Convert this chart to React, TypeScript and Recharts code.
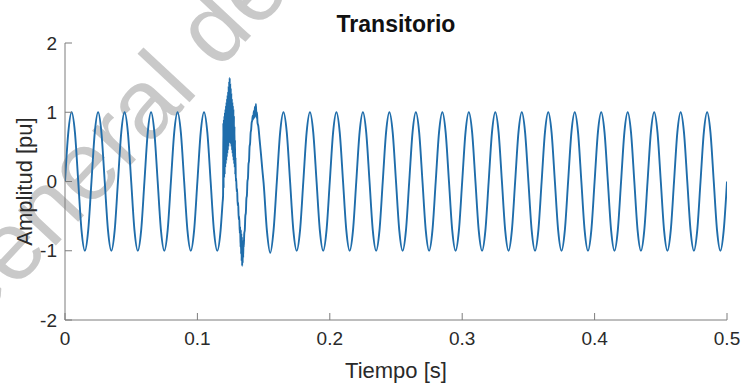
import React from 'react';
import { LineChart, Line, XAxis, YAxis, Label } from 'recharts';

// ---- data ----
// regular samples every 2.5 ms (50 Hz signal, 8 samples per cycle)
const BASE_STEP = 0.0025;
const baseAmp: number[] = [
  0, 0.71, 1, 0.71, 0, -0.71, -1, -0.71,
  0, 0.71, 1, 0.71, 0, -0.71, -1, -0.71,
  0, 0.71, 1, 0.71, 0, -0.71, -1, -0.71,
  0, 0.71, 1, 0.71, 0, -0.71, -1, -0.71,
  0, 0.71, 1, 0.71, 0, -0.71, -1, -0.71,
  0, 0.71, 1, 0.71, 0, -0.71, -1, -0.71,
  0, 0.71, 1, 0.71, 0, -0.71, -1, -0.71,
  0, 0.71, 1, 0.71, 0, -0.71, -1.03, -0.71,
  0, 0.71, 1, 0.71, 0, -0.71, -1, -0.71,
  0, 0.71, 1, 0.71, 0, -0.71, -1, -0.71,
  0, 0.71, 1, 0.71, 0, -0.71, -1, -0.71,
  0, 0.71, 1, 0.71, 0, -0.71, -1, -0.71,
  0, 0.71, 1, 0.71, 0, -0.71, -1, -0.71,
  0, 0.71, 1, 0.71, 0, -0.71, -1, -0.71,
  0, 0.71, 1, 0.71, 0, -0.71, -1, -0.71,
  0, 0.71, 1, 0.71, 0, -0.71, -1, -0.71,
  0, 0.71, 1, 0.71, 0, -0.71, -1, -0.71,
  0, 0.71, 1, 0.71, 0, -0.71, -1, -0.71,
  0, 0.71, 1, 0.71, 0, -0.71, -1, -0.71,
  0, 0.71, 1, 0.71, 0, -0.71, -1, -0.71,
  0, 0.71, 1, 0.71, 0, -0.71, -1, -0.71,
  0, 0.71, 1, 0.71, 0, -0.71, -1, -0.71,
  0, 0.71, 1, 0.71, 0, -0.71, -1, -0.71,
  0, 0.71, 1, 0.71, 0, -0.71, -1, -0.71,
  0, 0.71, 1, 0.71, 0, -0.71, -1, -0.71,
  0,
];

// transient window (replaces the regular samples between these times)
const TRANSIENT_START = 0.1185;
const TRANSIENT_END = 0.1505;
const transientTime: number[] = [
  // noisy rise / first peak
  0.1190, 0.1194, 0.1196, 0.1198, 0.1200, 0.1202, 0.1204, 0.1206, 0.1208, 0.1210,
  0.1212, 0.1214, 0.1216, 0.1218, 0.1220, 0.1222, 0.1224, 0.1226, 0.1228, 0.1230,
  0.1232, 0.1234, 0.1236, 0.1238, 0.1240, 0.1242, 0.1244, 0.1246, 0.1248, 0.1250,
  0.1252, 0.1254, 0.1256, 0.1258, 0.1260, 0.1262, 0.1264, 0.1266, 0.1268, 0.1270,
  0.1272, 0.1274, 0.1276, 0.1278, 0.1280, 0.1282, 0.1284, 0.1286, 0.1288, 0.1290,
  // descent
  0.1293, 0.1297, 0.1300, 0.1304, 0.1308, 0.1312, 0.1316, 0.1320, 0.1323,
  // noisy trough
  0.1326, 0.1328, 0.1330, 0.1332, 0.1334, 0.1336, 0.1338, 0.1340, 0.1342, 0.1344,
  0.1346, 0.1348, 0.1350,
  // rise
  0.1354, 0.1358, 0.1362, 0.1366, 0.1370, 0.1374, 0.1378, 0.1382, 0.1386, 0.1390,
  0.1394, 0.1398, 0.1402, 0.1406, 0.1410, 0.1414, 0.1418,
  // second peak and fall
  0.1422, 0.1426, 0.1430, 0.1434, 0.1438, 0.1442, 0.1446, 0.1450, 0.1454, 0.1460,
  0.1470, 0.1480, 0.1490, 0.1500,
];
const transientAmp: number[] = [
  -0.31, -0.2, 0.85, -0.1, 0.9, 0.05, 0.95, 0.1, 1.0, 0.2,
  1.05, 0.25, 1.1, 0.3, 1.15, 0.35, 1.2, 0.4, 1.25, 0.45,
  1.3, 0.5, 1.38, 0.55, 1.45, 0.6, 1.5, 0.6, 1.42, 0.55,
  1.35, 0.55, 1.28, 0.5, 1.2, 0.45, 1.15, 0.4, 1.1, 0.35,
  1.05, 0.3, 0.95, 0.25, 0.8, 0.2, 0.6, 0.1, 0.35, 0.0,
  0.05, -0.15, -0.1, -0.35, -0.3, -0.55, -0.5, -0.75, -0.65,
  -0.95, -0.7, -1.05, -0.75, -1.15, -0.8, -1.22, -0.85, -1.18, -0.9,
  -1.1, -0.85, -0.95,
  -0.75, -0.7, -0.5, -0.45, -0.25, -0.2, 0.0, 0.05, 0.25, 0.3,
  0.5, 0.55, 0.7, 0.75, 0.85, 0.88, 0.95,
  0.9, 1.02, 0.92, 1.08, 0.95, 1.12, 0.92, 1.0, 0.85, 0.8,
  0.6, 0.4, 0.18, -0.02,
];

const xTicks = [0, 0.1, 0.2, 0.3, 0.4, 0.5];
const xTickLabels = ['0', '0.1', '0.2', '0.3', '0.4', '0.5'];
const yTicks = [-2, -1, 0, 1, 2];
const yTickLabels = ['-2', '-1', '0', '1', '2'];

const TITLE = 'Transitorio';
const X_LABEL = 'Tiempo [s]';
const Y_LABEL = 'Amplitud [pu]';
const WATERMARK = 'General de Bibliotecas';

// ---- table for the library ----
const data = [
  ...baseAmp
    .map((a, i) => ({ t: Number((i * BASE_STEP).toFixed(4)), a }))
    .filter((p) => p.t < TRANSIENT_START || p.t > TRANSIENT_END),
  ...transientTime.map((t, i) => ({ t, a: transientAmp[i] })),
].sort((p, q) => p.t - q.t);

// ---- styles ----
const FONT = '"Liberation Sans", Arial, Helvetica, sans-serif';
const AXIS_COLOR = '#7d7d7d';
const TEXT_COLOR = '#2a2a2a';
const LINE_COLOR = '#1f6dab';
const TICK_LEN = 7;
const X_GAP = 12;
const Y_GAP = 8;
const TICK_FONT = 19;

const labelFor = (vals: number[], labels: string[], v: number) => {
  const i = vals.findIndex((x) => Math.abs(x - v) < 1e-9);
  return i >= 0 ? labels[i] : String(v);
};

const BottomTick = (props: any) => {
  const { x, y, payload } = props;
  return (
    <g>
      <line x1={x} x2={x} y1={y - X_GAP} y2={y - X_GAP - TICK_LEN} stroke={AXIS_COLOR} strokeWidth={1} />
      <text x={x} y={y} dy="0.71em" textAnchor="middle" fontSize={TICK_FONT} fill={TEXT_COLOR} fontFamily={FONT}>
        {labelFor(xTicks, xTickLabels, payload.value)}
      </text>
    </g>
  );
};

const TopTick = (props: any) => {
  const { x, y } = props;
  return <line x1={x} x2={x} y1={y} y2={y + TICK_LEN} stroke={AXIS_COLOR} strokeWidth={1} />;
};

const LeftTick = (props: any) => {
  const { x, y, payload } = props;
  return (
    <g>
      <line x1={x + Y_GAP} x2={x + Y_GAP + TICK_LEN} y1={y} y2={y} stroke={AXIS_COLOR} strokeWidth={1} />
      <text x={x} y={y} dy="0.355em" textAnchor="end" fontSize={TICK_FONT} fill={TEXT_COLOR} fontFamily={FONT}>
        {labelFor(yTicks, yTickLabels, payload.value)}
      </text>
    </g>
  );
};

const RightTick = (props: any) => {
  const { x, y } = props;
  return <line x1={x} x2={x - TICK_LEN} y1={y} y2={y} stroke={AXIS_COLOR} strokeWidth={1} />;
};

const W = 741;
const H = 383;
const WM_X = -38;
const WM_Y = 346;

export default function App() {
  return (
    <div style={{ position: 'absolute', left: 0, top: 0, width: W, height: H, background: '#ffffff', overflow: 'hidden' }}>
      <svg width={W} height={H} style={{ position: 'absolute', left: 0, top: 0 }}>
        <text
          x={WM_X}
          y={WM_Y}
          transform={`rotate(-47 ${WM_X} ${WM_Y})`}
          fontSize={98}
          fill="#c9c9c9"
          fontFamily={FONT}
        >
          {WATERMARK}
        </text>
        <text x={396} y={31.5} textAnchor="middle" fontSize={23} fontWeight="bold" fill="#111" fontFamily={FONT}>
          {TITLE}
        </text>
      </svg>
      <div style={{ position: 'absolute', left: 0, top: 0 }}>
        <LineChart width={W} height={H} data={data} margin={{ top: 43, right: 14, bottom: 33, left: 25 }}>
          <XAxis
            dataKey="t"
            type="number"
            domain={[0, 0.5]}
            ticks={xTicks}
            interval={0}
            height={30}
            tickSize={0}
            tickMargin={X_GAP}
            tickLine={false}
            axisLine={{ stroke: AXIS_COLOR }}
            tick={<BottomTick />}
            allowDataOverflow
          >
            <Label value={X_LABEL} position="bottom" offset={12} fontSize={22} fill={TEXT_COLOR} fontFamily={FONT} />
          </XAxis>
          <XAxis
            xAxisId="top"
            orientation="top"
            dataKey="t"
            type="number"
            domain={[0, 0.5]}
            ticks={xTicks}
            interval={0}
            height={0}
            tickSize={0}
            tickMargin={0}
            tickLine={false}
            axisLine={{ stroke: AXIS_COLOR }}
            tick={<TopTick />}
            allowDataOverflow
          />
          <YAxis
            type="number"
            domain={[-2, 2]}
            ticks={yTicks}
            interval={0}
            width={40}
            tickSize={0}
            tickMargin={Y_GAP}
            tickLine={false}
            axisLine={{ stroke: AXIS_COLOR }}
            tick={<LeftTick />}
            allowDataOverflow
          >
            <Label
              value={Y_LABEL}
              angle={-90}
              position="insideLeft"
              offset={-1}
              fontSize={22}
              fill={TEXT_COLOR}
              fontFamily={FONT}
              style={{ textAnchor: 'middle' }}
            />
          </YAxis>
          <YAxis
            yAxisId="right"
            orientation="right"
            type="number"
            domain={[-2, 2]}
            ticks={yTicks}
            interval={0}
            width={0}
            tickSize={0}
            tickMargin={0}
            tickLine={false}
            axisLine={{ stroke: AXIS_COLOR }}
            tick={<RightTick />}
            allowDataOverflow
          />
          <Line
            dataKey="a"
            type="monotone"
            stroke={LINE_COLOR}
            strokeWidth={1.9}
            dot={false}
            activeDot={false}
            isAnimationActive={false}
          />
        </LineChart>
      </div>
    </div>
  );
}
